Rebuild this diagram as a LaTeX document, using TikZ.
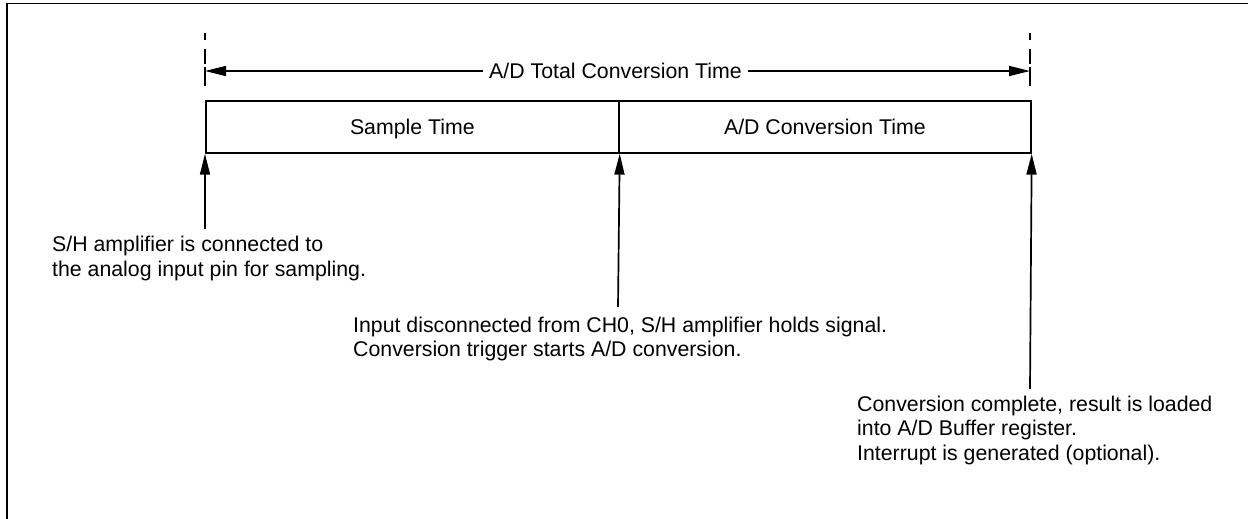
\documentclass[tikz,border=0pt]{standalone}
\usepackage{fontspec}
\setmainfont{Liberation Sans}
\usetikzlibrary{arrows.meta}
\begin{document}
\begin{tikzpicture}[x=1pt,y=-1pt,
  line/.style={line width=1.7pt},
  tip/.style={-{Triangle[length=21pt,width=10pt]}},
  lbl/.style={font=\fontsize{21.3}{24.5}\selectfont, inner sep=0pt},
  note/.style={lbl, align=left, anchor=north west},
  cell/.style={lbl, draw, line width=1.7pt, minimum height=52pt, text depth=0pt, anchor=north west},
  dashmark/.style={line, dash pattern=on 7pt off 9pt on 15pt off 3pt on 20pt}]
\useasboundingbox (0,0) rectangle (1248,519);
% frame
\coordinate (fb) at (7,530);
\coordinate (fc) at (7,3.5);
\coordinate (fr) at (1260,3.5);
\draw[line width=1.7pt] (fb) -- (fc) -- (fr);
% boxes
\node[cell, minimum width=413pt] (sample) at (205,100) {Sample Time};
\node[cell, minimum width=412pt] (conv) at (618,100) {A/D Conversion Time};
% dashed markers
\coordinate (d1t) at (205,33);
\coordinate (d1b) at (205,86);
\coordinate (d2t) at (1030,33);
\coordinate (d2b) at (1030,86);
\draw[dashmark] (d1t) -- (d1b);
\draw[dashmark] (d2t) -- (d2b);
% total time arrow
\node[lbl, inner xsep=6pt] (total) at (615.5,71) {A/D Total Conversion Time};
\coordinate (la) at (205,71);
\coordinate (ra) at (1030,71);
\draw[line, tip] (total.west) -- (la);
\draw[line, tip] (total.east) -- (ra);
% notes
\node[note] (n1) at (52,236.2) {S/H amplifier is connected to\\the analog input pin for sampling.};
\node[note] (n2) at (353,316.7) {Input disconnected from CH0, S/H amplifier holds signal.\\Conversion trigger starts A/D conversion.};
\node[note] (n3) at (857,395.7) {Conversion complete, result is loaded\\into A/D Buffer register.\\Interrupt is generated (optional).};
% up arrows
\coordinate (u1) at (205,229);
\coordinate (u2) at (618,307);
\coordinate (u3) at (1030,389);
\draw[line, tip] (u1) -- (sample.south west);
\draw[line, tip] (u2) -- (sample.south east);
\draw[line, tip] (u3) -- (conv.south east);
\end{tikzpicture}
\end{document}
